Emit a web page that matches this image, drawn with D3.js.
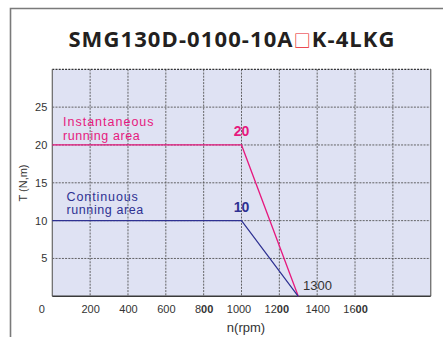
<!DOCTYPE html>
<html><head><meta charset="utf-8">
<script src="https://cdn.jsdelivr.net/npm/d3@7"></script>
<style>
html,body{margin:0;padding:0;background:#fff;}
svg{display:block;}
</style></head>
<body>
<script>
// ---- data ----
const speedPoints = [0, 1000, 1300];          // rpm
const instantTorque = [20, 20, 0];            // N.m
const continuousTorque = [10, 10, 0];         // N.m
const xTicks = [0, 200, 400, 600, 800, 1000, 1200, 1400, 1600];
const xTickLabels = [["0",""],["200",""],["400",""],["600",""],["8","00"],["1000",""],["12","00"],["1400",""],["16","00"]];
const yTicks = [5, 10, 15, 20, 25];
const xGrid = [200, 400, 600, 800, 1000, 1200, 1400, 1600, 1800];
const titleParts = ["SMG130D-0100-10A", "□", "K-4LKG"];
const instantLabel = ["Instantaneous", "running area"];
const continuousLabel = ["Continuous", "running area"];
const peakLabels = ["20", "10"];
const cutoffLabel = "1300";

const W = 443, H = 337;
const svg = d3.select("body").append("svg").attr("width", W).attr("height", H);

// outer frame (top + left visible)
svg.append("path").attr("d", `M10.5,${H} L10.5,8.5 L${W},8.5`)
  .attr("fill","none").attr("stroke","#7a7a7a").attr("stroke-width",1.6);

const x = d3.scaleLinear().domain([0, 2000]).range([52.3, 430.7]);
const y = d3.scaleLinear().domain([0, 30]).range([296.3, 69.3]);

// title
const t = svg.append("text").attr("x", 232).attr("y", 47)
  .attr("text-anchor","middle").attr("font-family","'Open Sans', 'Noto Sans', sans-serif")
  .attr("font-weight",700).attr("font-size",22).attr("letter-spacing",1.1).attr("fill","#231f20");
t.append("tspan").text(titleParts[0]);
t.append("tspan").attr("fill","#e8202a").attr("font-weight",400).attr("font-family","'Noto Sans CJK SC', 'DejaVu Sans', sans-serif").attr("font-size",17).text(titleParts[1]);
t.append("tspan").text(titleParts[2]);

// plot background
svg.append("rect").attr("x", x(0)).attr("y", y(30))
  .attr("width", x(2000)-x(0)).attr("height", y(0)-y(30)).attr("fill","#dfe2f3");

// grid
const grid = svg.append("g").attr("stroke","#555").attr("stroke-width",0.9).attr("stroke-dasharray","2,1.2");
grid.selectAll("line.v").data(xGrid).join("line")
  .attr("x1", d=>x(d)).attr("x2", d=>x(d)).attr("y1", y(30)).attr("y2", y(0));
grid.selectAll("line.h").data(yTicks).join("line")
  .attr("x1", x(0)).attr("x2", x(2000)).attr("y1", d=>y(d)).attr("y2", d=>y(d));
// top border dashed
grid.append("line").attr("x1", x(0)).attr("x2", x(2000)).attr("y1", y(30)).attr("y2", y(30)).attr("stroke","#333").attr("stroke-width",1.2);

// borders
svg.append("line").attr("x1", x(0)).attr("x2", x(0)).attr("y1", y(30)).attr("y2", y(0)).attr("stroke","#666").attr("stroke-width",1.2);
svg.append("line").attr("x1", x(2000)).attr("x2", x(2000)).attr("y1", y(30)).attr("y2", y(0)).attr("stroke","#777").attr("stroke-width",1.4);
svg.append("line").attr("x1", x(0)).attr("x2", x(2000)).attr("y1", y(0)).attr("y2", y(0)).attr("stroke","#3a3a3a").attr("stroke-width",1.4);

// y axis tick labels
const yAxis = d3.axisLeft(y).tickValues(yTicks).tickSize(0).tickPadding(5);
const gy = svg.append("g").attr("transform", `translate(${x(0)},0)`).call(yAxis);
gy.select(".domain").remove();
gy.selectAll("text").attr("font-family","'Liberation Sans', Arial, sans-serif").attr("font-size",11).attr("fill","#333");

// x axis tick labels
const xAxis = d3.axisBottom(x).tickValues(xTicks).tickSize(0).tickPadding(9).tickFormat("");
const gx = svg.append("g").attr("transform", `translate(0,${y(0)})`).call(xAxis);
gx.select(".domain").remove();
gx.selectAll(".tick text").each(function(d, i){
  const el = d3.select(this).attr("font-family","'Liberation Sans', Arial, sans-serif").attr("font-size",11).attr("fill","#333");
  const parts = xTickLabels[i];
  el.append("tspan").text(parts[0]);
  if (parts[1]) el.append("tspan").attr("font-weight",700).text(parts[1]);
  if (d === 0) el.attr("dx", -11);
  if (d === 1000) el.attr("dx", -3);
  if (d === 1200) el.attr("dx", -3);
});

// axis titles
svg.append("text").attr("transform", `translate(27,${183}) rotate(-90)`)
  .attr("text-anchor","middle").attr("font-family","'Liberation Sans', Arial, sans-serif")
  .attr("font-size",11).attr("fill","#333").text("T (N,m)");
svg.append("text").attr("x", 246).attr("y", 332)
  .attr("text-anchor","middle").attr("font-family","'Liberation Sans', Arial, sans-serif")
  .attr("font-size",13).attr("fill","#333").text("n(rpm)");

// curves
const line = d3.line().x(d=>x(d[0])).y(d=>y(d[1]));
const pink = "#e6197e", navy = "#2e3192";
svg.append("path").datum(speedPoints.map((s,i)=>[s, instantTorque[i]]))
  .attr("d", line).attr("fill","none").attr("stroke", pink).attr("stroke-width",1.3);
svg.append("path").datum(speedPoints.map((s,i)=>[s, continuousTorque[i]]))
  .attr("d", line).attr("fill","none").attr("stroke", navy).attr("stroke-width",1.2);

// labels
const lab = (txt, lx, ly, col, size, weight, anchor, ls) => svg.append("text").attr("x", lx).attr("y", ly)
  .attr("font-family","'Liberation Sans', Arial, sans-serif").attr("font-size", size)
  .attr("letter-spacing", ls || 0)
  .attr("font-weight", weight).attr("fill", col).attr("text-anchor", anchor||"start").text(txt);

lab(instantLabel[0], 63, 126, pink, 12.5, 400, "start", 1.0);
lab(instantLabel[1], 63, 139.5, pink, 12.5, 400, "start", 0.6);
lab(continuousLabel[0], 66.5, 201, navy, 12.5, 400, "start", 0.9);
lab(continuousLabel[1], 66.5, 214, navy, 12.5, 400, "start", 0.6);
lab(peakLabels[0], x(1000), 136, pink, 14, 700, "middle");
lab(peakLabels[1], x(1000), 212, navy, 14, 700, "middle");
lab(cutoffLabel, 303, 290, "#333", 13, 400, "start");
</script>
</body></html>
